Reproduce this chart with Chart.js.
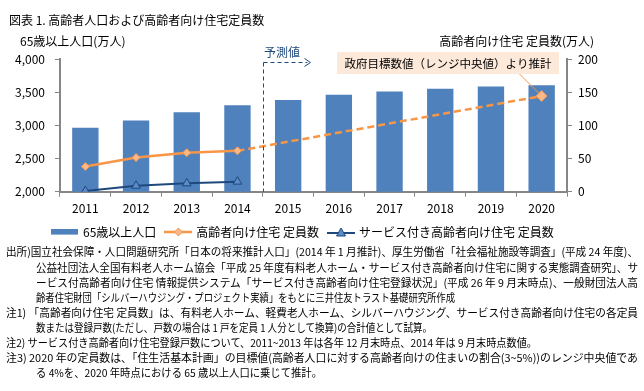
<!DOCTYPE html>
<html><head><meta charset="utf-8">
<script src="https://cdn.jsdelivr.net/npm/chart.js@4.4.1/dist/chart.umd.min.js"></script>
<style>
html,body{margin:0;padding:0;background:#fff;}
#wrap{position:relative;width:644px;height:391px;overflow:hidden;font-family:"Noto Sans CJK JP","Noto Sans",sans-serif;color:#000;}
#c{position:absolute;left:0;top:0;}
.t{position:absolute;white-space:nowrap;line-height:1;}
.note{position:absolute;white-space:nowrap;font-size:11px;line-height:1;transform-origin:0 50%;}
#anno{position:absolute;left:337px;top:52px;width:222px;height:22px;background:#FDE9D9;font-size:11.5px;line-height:22px;text-align:center;white-space:nowrap;}
</style></head><body>
<div id="wrap">
<canvas id="c" width="644" height="248"></canvas>
<div class="t" style="left:9px;top:14px;font-size:12px;">図表 1. 高齢者人口および高齢者向け住宅定員数</div>
<div class="t" style="left:20px;top:35px;font-size:12px;">65歳以上人口(万人)</div>
<div class="t" style="right:50px;top:35px;font-size:12px;">高齢者向け住宅 定員数(万人)</div>
<div class="t" style="left:264px;top:46px;font-size:12px;color:#1F497D;">予測値</div>
<div id="anno">政府目標数値（レンジ中央値）より推計</div>

<div class="note" data-l="6" data-r="638" style="top:246px;">出所)国立社会保障・人口問題研究所「日本の将来推計人口」(2014 年 1 月推計)、厚生労働省「社会福祉施設等調査」(平成 24 年度)、</div>
<div class="note" data-l="36" data-r="638" style="top:261.5px;">公益社団法人全国有料老人ホーム協会「平成 25 年度有料老人ホーム・サービス付き高齢者向け住宅に関する実態調査研究」、サ</div>
<div class="note" data-l="36" data-r="638" style="top:277px;">ービス付高齢者向け住宅 情報提供システム「サービス付き高齢者向け住宅登録状況」(平成 26 年 9 月末時点)、一般財団法人高</div>
<div class="note" data-l="36" data-r="455" style="top:292px;">齢者住宅財団「シルバーハウジング・プロジェクト実績」をもとに三井住友トラスト基礎研究所作成</div>
<div class="note" data-l="6" data-r="638" style="top:307px;">注1) 「高齢者向け住宅  定員数」は、有料老人ホーム、軽費老人ホーム、シルバーハウジング、サービス付き高齢者向け住宅の各定員</div>
<div class="note" data-l="36" data-r="432" style="top:322px;">数または登録戸数(ただし、戸数の場合は 1 戸を定員 1 人分として換算)の合計値として試算。</div>
<div class="note" data-l="6" data-r="537" style="top:337px;">注2) サービス付き高齢者向け住宅登録戸数について、2011~2013 年は各年 12 月末時点、2014 年は 9 月末時点数値。</div>
<div class="note" data-l="6" data-r="638" style="top:351.5px;">注3) 2020 年の定員数は、「住生活基本計画」の目標値(高齢者人口に対する高齢者向けの住まいの割合(3~5%))のレンジ中央値であ</div>
<div class="note" data-l="36" data-r="322" style="top:366.5px;">る 4%を、2020 年時点における 65 歳以上人口に乗じて推計。</div>
</div>
<script>
// ---- data ----
const years = ['2011','2012','2013','2014','2015','2016','2017','2018','2019','2020'];
const population65 = [2965, 3076, 3200, 3305, 3385, 3463, 3512, 3556, 3590, 3607];
const seniorHousingCapacity = [38, 51.5, 59, 61.7, null, null, null, null, null, 144.5];
const serviceHousingCapacity = [1, 9, 12.7, 15.2, null, null, null, null, null, null];
const leftTicks = [2000, 2500, 3000, 3500, 4000];
const rightTicks = [0, 50, 100, 150, 200];
const forecastStartIndex = 4;

// fit notes to widths
document.querySelectorAll('.note').forEach(el => {
  const l = +el.dataset.l, r = +el.dataset.r;
  el.style.left = l + 'px';
  const w = el.getBoundingClientRect().width;
  el.style.transform = 'scaleX(' + ((r - l) / w) + ')';
});

const BLUE = '#4F81BD', ORANGE = '#F79646', NAVY = '#1F497D', AXIS = '#868686';

function mk(w, h, fn) { const c = document.createElement('canvas'); c.width = w; c.height = h; fn(c.getContext('2d')); return c; }
const markers = [
  mk(28, 8, g => { g.fillStyle = BLUE; g.fillRect(0, 1, 27, 5); g.fillStyle = '#95B3D7'; g.fillRect(0, 6, 27, 1); }),
  mk(28, 10, g => { g.strokeStyle = ORANGE; g.lineWidth = 2.5; g.beginPath(); g.moveTo(0,5); g.lineTo(28,5); g.stroke();
    g.fillStyle = '#F9B98A'; g.lineWidth = 1; g.beginPath(); g.moveTo(14,1); g.lineTo(18,5); g.lineTo(14,9); g.lineTo(10,5); g.closePath(); g.fill(); g.stroke(); }),
  mk(28, 12, g => { g.strokeStyle = NAVY; g.lineWidth = 2; g.beginPath(); g.moveTo(0,7); g.lineTo(28,7); g.stroke();
    g.fillStyle = '#5B8BC9'; g.lineWidth = 1; g.beginPath(); g.moveTo(14,2); g.lineTo(18.5,10); g.lineTo(9.5,10); g.closePath(); g.fill(); g.stroke(); })
];

const overlay = {
  id: 'overlay',
  beforeDraw(chart) {
    // shift legend start to match the reference
    if (chart.legend) chart.legend.left = 43;
  },
  afterDatasetsDraw(chart) {
    const ctx = chart.ctx, xs = chart.scales.x, area = chart.chartArea;
    const x = Math.round((xs.getPixelForValue(forecastStartIndex - 1) + xs.getPixelForValue(forecastStartIndex)) / 2) + 0.5;
    ctx.save();
    ctx.strokeStyle = NAVY; ctx.lineWidth = 1; ctx.setLineDash([4, 3]);
    ctx.beginPath(); ctx.moveTo(x, 62.5); ctx.lineTo(x, area.bottom); ctx.stroke();
    ctx.beginPath(); ctx.moveTo(x, 62.5); ctx.lineTo(x + 44, 62.5); ctx.stroke();
    ctx.setLineDash([]);
    ctx.beginPath(); ctx.moveTo(x + 41, 58.5); ctx.lineTo(x + 47, 62.5); ctx.lineTo(x + 41, 66.5); ctx.stroke();
    const meta = chart.getDatasetMeta(1);
    const p = meta.data[9];
    ctx.strokeStyle = ORANGE; ctx.lineWidth = 1;
    ctx.beginPath(); ctx.moveTo(519, 73.5); ctx.lineTo(p.x - 2, p.y - 2); ctx.stroke();
    ctx.restore();
  }
};

new Chart(document.getElementById('c'), {
  data: {
    labels: years,
    datasets: [
      { type: 'bar', label: '65歳以上人口', data: population65, yAxisID: 'y',
        backgroundColor: BLUE, barPercentage: 0.52, categoryPercentage: 1, order: 3 },
      { type: 'line', label: '高齢者向け住宅 定員数', data: seniorHousingCapacity, yAxisID: 'y1',
        borderColor: ORANGE, borderWidth: 2.5, spanGaps: true, tension: 0,
        segment: { borderDash: c => c.p0DataIndex >= 3 ? [7, 4] : undefined },
        pointStyle: 'rectRot', pointRadius: [4,4,4,4,0,0,0,0,0,5.5],
        pointBackgroundColor: '#F9B98A', pointBorderColor: ORANGE, pointBorderWidth: 1, order: 1 },
      { type: 'line', label: 'サービス付き高齢者向け住宅 定員数', data: serviceHousingCapacity, yAxisID: 'y1',
        borderColor: NAVY, borderWidth: 2, tension: 0,
        pointStyle: 'triangle', pointRadius: 5,
        pointBackgroundColor: '#5B8BC9', pointBorderColor: NAVY, pointBorderWidth: 1, order: 0 }
    ]
  },
  options: {
    responsive: false, animation: false, devicePixelRatio: 1,
    layout: { padding: { left: 0, right: 0, top: 59.3, bottom: 0 } },
    plugins: {
      tooltip: { enabled: false },
      legend: {
        position: 'bottom', align: 'start',
        labels: {
          usePointStyle: true, pointStyleWidth: 24, padding: 10, color: '#000',
          font: { size: 12, family: '"Noto Sans CJK JP"' },
          generateLabels: (chart) => {
            const items = Chart.defaults.plugins.legend.labels.generateLabels(chart);
            items.forEach(it => { it.pointStyle = markers[it.datasetIndex]; });
            return items.sort((a, b) => a.datasetIndex - b.datasetIndex);
          }
        }
      }
    },
    scales: {
      x: {
        offset: true,
        grid: { offset: true, drawOnChartArea: false, tickLength: 5, color: AXIS, lineWidth: 1 },
        border: { color: AXIS, width: 2 },
        ticks: { color: '#000', padding: 5, font: { size: 12, family: '"Noto Sans CJK JP"' }, maxRotation: 0 },
        afterFit: s => { s.height = 24.3; }
      },
      y: {
        position: 'left', min: 2000, max: 4000,
        afterBuildTicks: s => { s.ticks = leftTicks.map(v => ({ value: v })); },
        grid: { drawOnChartArea: false, tickLength: 5, color: AXIS },
        border: { color: AXIS, width: 2 },
        ticks: { color: '#000', padding: 10, font: { size: 12, family: '"Noto Sans CJK JP"' },
                 callback: v => v.toLocaleString('en-US') },
        afterFit: s => { s.width = 60; }
      },
      y1: {
        position: 'right', min: 0, max: 200,
        afterBuildTicks: s => { s.ticks = rightTicks.map(v => ({ value: v })); },
        grid: { drawOnChartArea: false, tickLength: 5, color: AXIS },
        border: { color: AXIS, width: 2 },
        ticks: { color: '#000', padding: 6, font: { size: 12, family: '"Noto Sans CJK JP"' } },
        afterFit: s => { s.width = 77; }
      }
    }
  },
  plugins: [overlay]
});
</script>
</body></html>
